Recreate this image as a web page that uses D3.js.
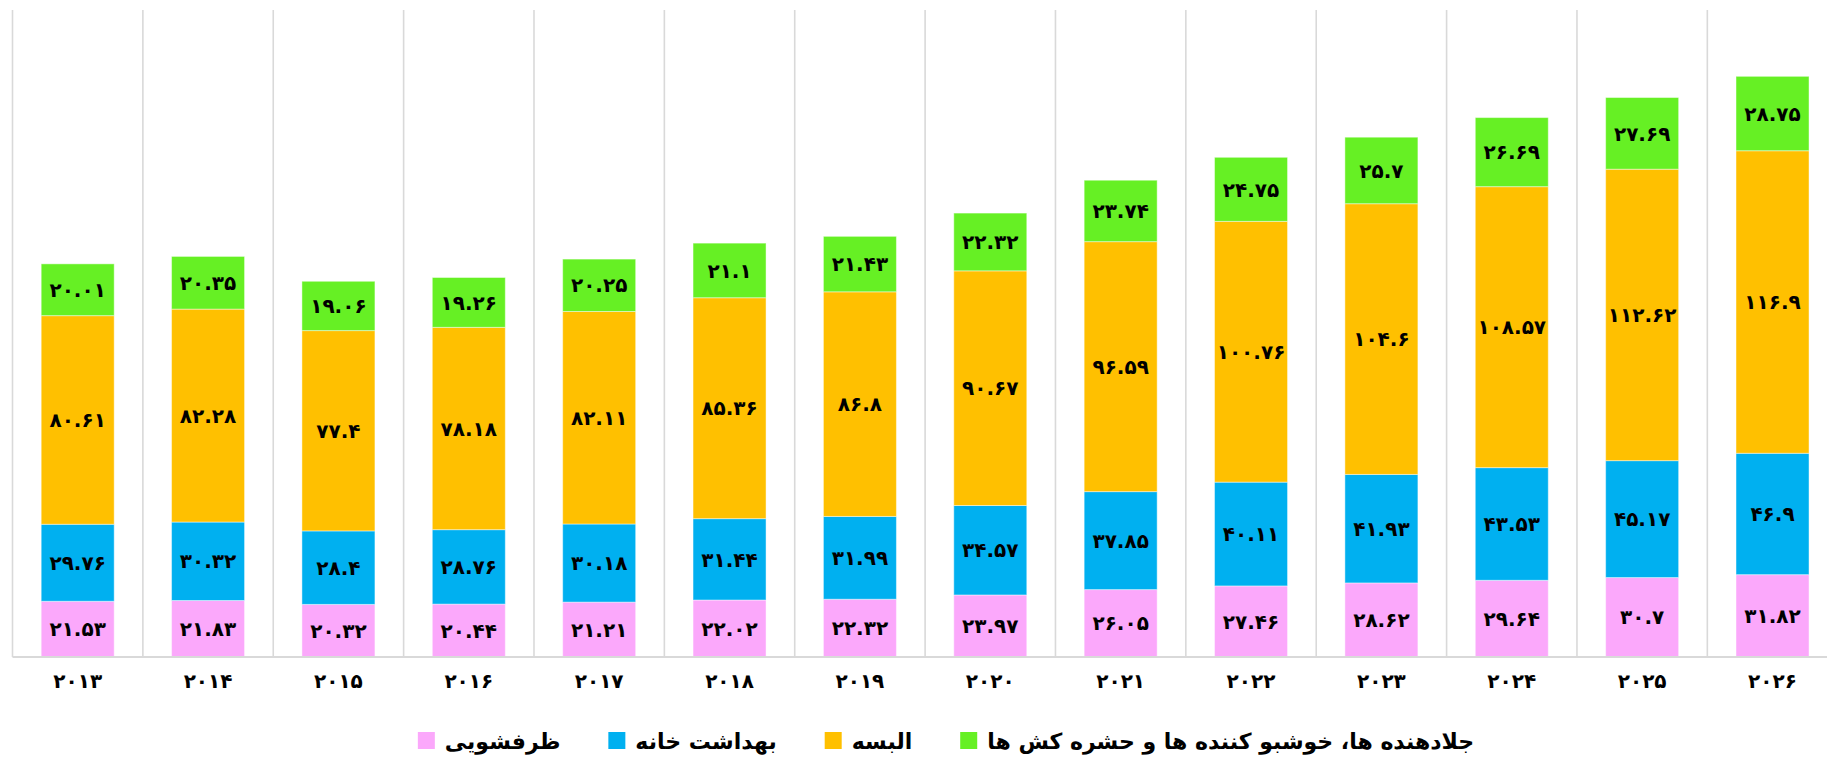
<!DOCTYPE html>
<html>
<head>
<meta charset="utf-8">
<script src="https://cdn.jsdelivr.net/npm/d3@7"></script>
<style>
  body { margin: 0; background: #fff; }
  svg { display: block; }
  .lbl { font-family: "DejaVu Sans", sans-serif; font-weight: bold; }
</style>
</head>
<body>
<svg id="chart" width="1827" height="765"></svg>
<script>
const years = ["2013","2014","2015","2016","2017","2018","2019","2020","2021","2022","2023","2024","2025","2026"];

// series, bottom to top
const dishwashing = [21.53,21.83,20.32,20.44,21.21,22.02,22.32,23.97,26.05,27.46,28.62,29.64,30.7,31.82];
const household   = [29.76,30.32,28.4,28.76,30.18,31.44,31.99,34.57,37.85,40.11,41.93,43.53,45.17,46.9];
const laundry     = [80.61,82.28,77.4,78.18,82.11,85.36,86.8,90.67,96.59,100.76,104.6,108.57,112.62,116.9];
const polishes    = [20.01,20.35,19.06,19.26,20.25,21.1,21.43,22.32,23.74,24.75,25.7,26.69,27.69,28.75];

const seriesNames = ["ظرفشویی", "بهداشت خانه", "البسه", "جلادهنده ها، خوشبو کننده ها و حشره کش ها"];
const seriesColors = ["#fba8fb", "#00b0f0", "#ffc000", "#66f024"];

const yMax = 250;

const svg = d3.select("#chart");

// persian digits for the labels
const faDigits = "۰۱۲۳۴۵۶۷۸۹";
const toFa = s => String(s).replace(/[0-9]/g, c => faDigits[+c]);

const rows = years.map((y, i) => ({
    year: y,
    s0: dishwashing[i], s1: household[i], s2: laundry[i], s3: polishes[i]
}));
const keys = ["s0", "s1", "s2", "s3"];
const stacked = d3.stack().keys(keys)(rows);

const x = d3.scaleBand()
    .domain(years)
    .range([12.5, 1837.7])
    .paddingInner(0.44)
    .paddingOuter(0.22);

const y = d3.scaleLinear().domain([0, yMax]).range([657, 10]);

const step = x.step();
const gap = step - x.bandwidth();

//vertical gridlines between categories
const gridX = years.map(d => x(d) - gap / 2).concat([x(years[years.length - 1]) + x.bandwidth() + gap / 2]);
svg.append("g")
  .selectAll("line")
  .data(gridX)
  .join("line")
    .attr("x1", d => d).attr("x2", d => d)
    .attr("y1", y(yMax)).attr("y2", y(0))
    .attr("stroke", "#d9d9d9")
    .attr("stroke-width", 1.6);

// bars
const layer = svg.append("g")
  .selectAll("g")
  .data(stacked)
  .join("g")
    .attr("fill", (d, i) => seriesColors[i]);

layer.selectAll("rect")
  .data(d => d)
  .join("rect")
    .attr("x", d => x(d.data.year))
    .attr("width", x.bandwidth())
    .attr("y", d => y(d[1]))
    .attr("height", d => y(d[0]) - y(d[1]))
    .attr("stroke", "#ffffff")
    .attr("stroke-opacity", 0.45)
    .attr("stroke-width", 1);

// value labels
layer.selectAll("text")
  .data((d) => d.map(v => ({ v: v, key: d.key })))
  .join("text")
    .attr("class", "lbl")
    .attr("x", d => x(d.v.data.year) + x.bandwidth() / 2)
    .attr("y", d => (y(d.v[0]) + y(d.v[1])) / 2)
    .attr("dy", "0.36em")
    .attr("text-anchor", "middle")
    .attr("direction", "ltr")
    .attr("fill", "#000")
    .style("font-size", "20px")
    .text(d => toFa(d.v.data[d.key]));

// x axis
svg.append("line")
    .attr("x1", 12.5).attr("x2", 1827)
    .attr("y1", y(0)).attr("y2", y(0))
    .attr("stroke", "#d9d9d9")
    .attr("stroke-width", 2);

svg.append("g")
  .selectAll("text")
  .data(years)
  .join("text")
    .attr("class", "lbl")
    .attr("x", d => x(d) + x.bandwidth() / 2)
    .attr("y", 681)
    .attr("dy", "0.36em")
    .attr("text-anchor", "middle")
    .attr("direction", "ltr")
    .style("font-size", "20px")
    .attr("fill", "#000")
    .text(d => toFa(d));

// legend, left to right: square then text
const legend = svg.append("g");
const items = legend.selectAll("g")
  .data(seriesNames)
  .join("g");

items.append("rect")
    .attr("width", 17).attr("height", 17)
    .attr("y", -9)
    .attr("fill", (d, i) => seriesColors[i]);

items.append("text")
    .attr("class", "lbl")
    .attr("x", 27)
    .attr("dy", "0.36em")
    .style("font-size", "22px")
    .attr("fill", "#000")
    .text(d => d);

let cursor = 0;
items.each(function() {
    const g = d3.select(this);
    const w = g.select("text").node().getComputedTextLength();
    g.attr("transform", `translate(${cursor},0)`);
    cursor += 27 + w + 48;
});
const legendWidth = cursor - 48;
legend.attr("transform", `translate(${946 - legendWidth / 2},741)`);
</script>
</body>
</html>
